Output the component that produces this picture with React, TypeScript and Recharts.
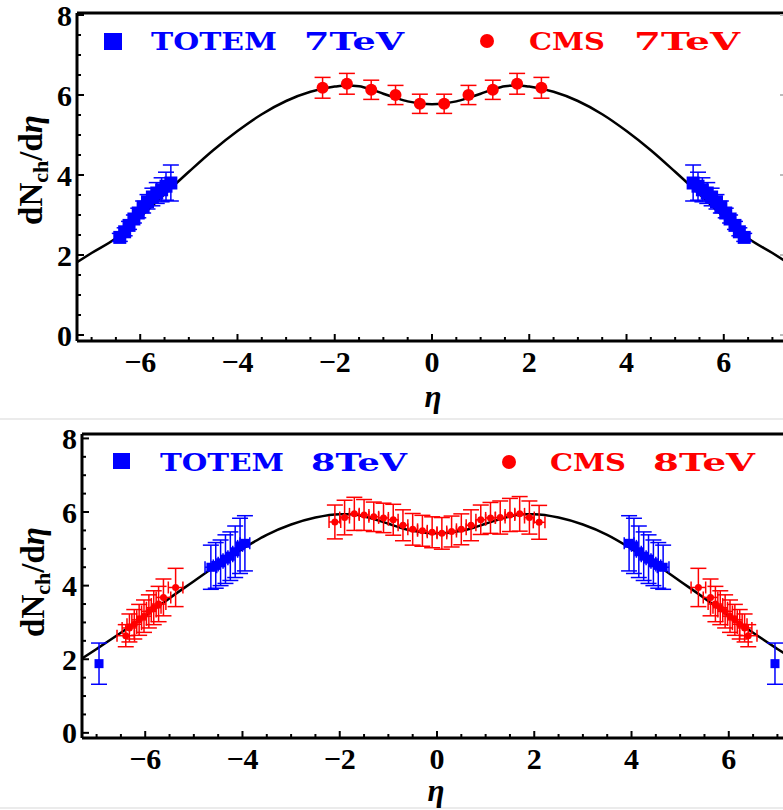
import React from "react";
import { ComposedChart, Line, Scatter, XAxis, YAxis, ErrorBar } from "recharts";

// fitted curves on a common eta grid
const etaGrid = [
  -7.3, -7, -6.5, -6, -5.5, -5, -4.5, -4, -3.5, -3, -2.5, -2, -1.75, -1.5, -1.25, -1, -0.75, -0.5, -0.25, 0,
  0.25, 0.5, 0.75, 1, 1.25, 1.5, 1.75, 2, 2.5, 3, 3.5, 4, 4.5, 5, 5.5, 6, 6.5, 7, 7.3,
];
const fit7 = [
  1.82, 2.05, 2.42, 2.95, 3.52, 4.08, 4.62, 5.1, 5.52, 5.85, 6.08, 6.21, 6.24, 6.22, 6.14, 6.03, 5.93, 5.84, 5.79, 5.77,
  5.79, 5.84, 5.93, 6.03, 6.14, 6.22, 6.24, 6.21, 6.08, 5.85, 5.52, 5.1, 4.62, 4.08, 3.52, 2.95, 2.42, 2.05, 1.82,
];
const fit8 = [
  2.02, 2.28, 2.72, 3.18, 3.66, 4.12, 4.58, 5.0, 5.38, 5.66, 5.85, 5.94, 5.94, 5.88, 5.79, 5.68, 5.57, 5.49, 5.44, 5.42,
  5.44, 5.49, 5.57, 5.68, 5.79, 5.88, 5.94, 5.94, 5.85, 5.66, 5.38, 5.0, 4.58, 4.12, 3.66, 3.18, 2.72, 2.28, 2.02,
];

// 7 TeV data
const totem7Eta = [5.37, 5.47, 5.56, 5.66, 5.75, 5.85, 5.94, 6.04, 6.13, 6.23, 6.32, 6.42]; // plotted at +/- eta
const totem7Val = [3.8, 3.72, 3.63, 3.55, 3.45, 3.33, 3.2, 3.05, 2.9, 2.74, 2.58, 2.44];
const totem7Err = [0.45, 0.35, 0.3, 0.26, 0.22, 0.18, 0.15, 0.12, 0.1, 0.1, 0.1, 0.1];

const cms7Eta = [-2.25, -1.75, -1.25, -0.75, -0.25, 0.25, 0.75, 1.25, 1.75, 2.25];
const cms7Val = [6.18, 6.28, 6.13, 6.0, 5.78, 5.78, 6.0, 6.13, 6.28, 6.18];
const cms7Err = [0.26, 0.26, 0.24, 0.24, 0.24, 0.24, 0.24, 0.24, 0.26, 0.26];

// 8 TeV data
const cms8Eta = [-2.1, -1.9, -1.7, -1.5, -1.3, -1.1, -0.9, -0.7, -0.5, -0.3, -0.1, 0.1, 0.3, 0.5, 0.7, 0.9, 1.1, 1.3, 1.5, 1.7, 1.9, 2.1];
const cms8Val = [5.73, 5.85, 5.95, 5.92, 5.87, 5.84, 5.79, 5.64, 5.53, 5.49, 5.45, 5.42, 5.47, 5.53, 5.64, 5.79, 5.84, 5.85, 5.92, 5.95, 5.85, 5.72];
const cms8Err = [0.46, 0.47, 0.45, 0.42, 0.4, 0.4, 0.42, 0.42, 0.43, 0.42, 0.42, 0.43, 0.42, 0.42, 0.42, 0.4, 0.42, 0.45, 0.45, 0.47, 0.45, 0.46];
const cms8EtaErr = [0.12, 0.1, 0.1, 0.1, 0.1, 0.1, 0.1, 0.1, 0.1, 0.1, 0.1, 0.1, 0.1, 0.1, 0.1, 0.1, 0.1, 0.1, 0.1, 0.1, 0.1, 0.12];

const cms8FwdEta = [5.375, 5.625, 5.725, 5.825, 5.925, 6.025, 6.125, 6.225, 6.325, 6.4]; // plotted at +/- eta
const cms8FwdVal = [3.95, 3.68, 3.5, 3.4, 3.3, 3.17, 3.07, 2.95, 2.85, 2.64];
const cms8FwdErr = [0.52, 0.5, 0.48, 0.46, 0.45, 0.44, 0.42, 0.4, 0.38, 0.3];
const cms8FwdEtaErr = [0.15, 0.15, 0.15, 0.15, 0.15, 0.15, 0.15, 0.15, 0.15, 0.18];

const totem8Eta = [3.95, 4.05, 4.15, 4.25, 4.35, 4.45, 4.55, 4.65, 6.95]; // plotted at +/- eta
const totem8Val = [5.15, 5.08, 4.92, 4.8, 4.72, 4.62, 4.55, 4.5, 1.88];
const totem8Err = [0.75, 0.75, 0.7, 0.66, 0.66, 0.62, 0.62, 0.6, 0.56];
const totem8EtaErr = [0.1, 0.05, 0.05, 0.05, 0.05, 0.05, 0.05, 0.12, 0];

// ticks
const xTicks = [
  -7, -6.5, -6, -5.5, -5, -4.5, -4, -3.5, -3, -2.5, -2, -1.5, -1, -0.5, 0,
  0.5, 1, 1.5, 2, 2.5, 3, 3.5, 4, 4.5, 5, 5.5, 6, 6.5, 7,
];
const yTicks = [0, 0.5, 1, 1.5, 2, 2.5, 3, 3.5, 4, 4.5, 5, 5.5, 6, 6.5, 7, 7.5, 8];

const BLUE = "#0000ff";
const RED = "#ff0000";
const SERIF = "'Liberation Serif', 'Times New Roman', serif";
const SLAB = "'DejaVu Serif', 'Courier New', serif";

type Pt = { x: number; y: number; ey: number; ex: number };

function pts(eta: number[], val: number[], err: number[], etaErr?: number[]): Pt[] {
  return eta.map((e, i) => ({ x: e, y: val[i], ey: err[i], ex: etaErr ? etaErr[i] : 0 }));
}
function mirrored(eta: number[], val: number[], err: number[], etaErr?: number[]): Pt[] {
  const out: Pt[] = [];
  eta.forEach((e, i) => {
    const p = { y: val[i], ey: err[i], ex: etaErr ? etaErr[i] : 0 };
    out.push({ x: -e, ...p }, { x: e, ...p });
  });
  return out;
}

const fit7Data = etaGrid.map((e, i) => ({ x: e, y: fit7[i] }));
const fit8Data = etaGrid.map((e, i) => ({ x: e, y: fit8[i] }));
const totem7Data = mirrored(totem7Eta, totem7Val, totem7Err);
const cms7Data = pts(cms7Eta, cms7Val, cms7Err);
const cms8Data = pts(cms8Eta, cms8Val, cms8Err, cms8EtaErr);
const cms8FwdData = mirrored(cms8FwdEta, cms8FwdVal, cms8FwdErr, cms8FwdEtaErr);
const totem8Data = mirrored(totem8Eta, totem8Val, totem8Err, totem8EtaErr);

const isMajor = (v: number) => Math.abs(v / 2 - Math.round(v / 2)) < 1e-6;
const fmt = (v: number) => (v < 0 ? `\u2212${-v}` : `${v}`);

function BottomTick(props: any) {
  const { x, y, payload } = props;
  const major = isMajor(payload.value);
  return (
    <g>
      <line x1={x} x2={x} y1={y} y2={y - (major ? 7 : 4)} stroke="#000" strokeWidth={2} />
      {major && (
        <text x={x} y={y + 31} textAnchor="middle" fontFamily={SERIF} fontWeight="bold" fontSize={30} fill="#000">
          {fmt(payload.value)}
        </text>
      )}
    </g>
  );
}
function TopTick(props: any) {
  const { x, y, payload } = props;
  const major = isMajor(payload.value);
  return <line x1={x} x2={x} y1={y} y2={y + (major ? 7 : 4)} stroke="#000" strokeWidth={2} />;
}
function LeftTick(props: any) {
  const { x, y, payload } = props;
  const major = isMajor(payload.value);
  return (
    <g>
      <line x1={x} x2={x + (major ? 7 : 4)} y1={y} y2={y} stroke="#000" strokeWidth={2} />
      {major && (
        <text x={x - 5} y={y} dy="0.35em" textAnchor="end" fontFamily={SERIF} fontWeight="bold" fontSize={30} fill="#000">
          {payload.value}
        </text>
      )}
    </g>
  );
}
function RightTick(props: any) {
  const { x, y, payload } = props;
  const major = isMajor(payload.value);
  return <line x1={x} x2={x - (major ? 7 : 4)} y1={y} y2={y} stroke="#bbb" strokeWidth={2} />;
}

// axes get a 1px box (Recharts skips drawing an axis of zero size)
function frameAxes(yDomain: [number, number]) {
  return [
    <XAxis key="xb" xAxisId="b" type="number" dataKey="x" domain={[-7.3, 7.3]} allowDataOverflow ticks={xTicks} interval={0}
      height={1} tickSize={0} tickMargin={0} tickLine={false} tick={(p: any) => <BottomTick {...p} />}
      axisLine={{ stroke: "#000", strokeWidth: 3 }} />,
    <XAxis key="xt" xAxisId="t" orientation="top" type="number" domain={[-7.3, 7.3]} allowDataOverflow ticks={xTicks} interval={0}
      height={1} tickSize={0} tickMargin={0} tickLine={false} tick={(p: any) => <TopTick {...p} />}
      axisLine={{ stroke: "#000", strokeWidth: 3 }} />,
    <YAxis key="yl" yAxisId="l" type="number" dataKey="y" domain={yDomain} allowDataOverflow ticks={yTicks} interval={0}
      width={1} tickSize={0} tickMargin={0} tickLine={false} tick={(p: any) => <LeftTick {...p} />}
      axisLine={{ stroke: "#000", strokeWidth: 3 }} />,
    <YAxis key="yr" yAxisId="r" orientation="right" type="number" domain={yDomain} allowDataOverflow ticks={yTicks} interval={0}
      width={1} tickSize={0} tickMargin={0} tickLine={false} tick={(p: any) => <RightTick {...p} />}
      axisLine={{ stroke: "#bbb", strokeWidth: 2 }} />,
  ];
}

const squareShape = (s: number) => (p: any) =>
  <rect x={p.cx - s / 2} y={p.cy - s / 2} width={s} height={s} fill={BLUE} />;
const dotShape = (r: number) => (p: any) => <circle cx={p.cx} cy={p.cy} r={r} fill={RED} />;

function YLabel({ x, y }: { x: number; y: number }) {
  return (
    <text transform={`translate(${x},${y}) rotate(-90)`} textAnchor="middle" fontFamily={SERIF} fontWeight="bold" fontSize={33} fill="#000">
      dN<tspan fontSize={22} dy={6}>ch</tspan>
      <tspan dy={-6}>/d</tspan>
      <tspan fontStyle="italic">η</tspan>
    </text>
  );
}

// legend words are set one by one so the wide typewriter gap between them is kept
function Word({ x, y, w, color, children }: { x: number; y: number; w: number; color: string; children: string }) {
  return (
    <text x={x} y={y} textLength={w} lengthAdjust="spacingAndGlyphs" fontFamily={SLAB} fontWeight="bold" fontSize={25} fill={color}>
      {children}
    </text>
  );
}

export default function App() {
  return (
    <div style={{ position: "absolute", left: 0, top: 0, width: 783, height: 810, overflow: "hidden", background: "#fff" }}>
      <div style={{ position: "absolute", left: 0, top: 0 }}>
        <ComposedChart width={800} height={400} margin={{ top: 12, right: 12, bottom: 58, left: 76 }}>
          {frameAxes([-0.15, 8.05])}
          <Line data={fit7Data} dataKey="y" xAxisId="b" yAxisId="l" type="monotone" stroke="#000" strokeWidth={2.5}
            dot={false} activeDot={false} isAnimationActive={false} />
          <Scatter data={totem7Data} xAxisId="b" yAxisId="l" shape={squareShape(13)} isAnimationActive={false}>
            <ErrorBar dataKey="ey" direction="y" width={8} stroke={BLUE} strokeWidth={1.5} />
          </Scatter>
          <Scatter data={cms7Data} xAxisId="b" yAxisId="l" shape={dotShape(6)} isAnimationActive={false}>
            <ErrorBar dataKey="ey" direction="y" width={8} stroke={RED} strokeWidth={1.5} />
          </Scatter>
        </ComposedChart>
      </div>
      <div style={{ position: "absolute", left: 0, top: 420 }}>
        <ComposedChart width={800} height={390} margin={{ top: 13, right: 7, bottom: 71, left: 81 }}>
          {frameAxes([-0.14, 8.12])}
          <Line data={fit8Data} dataKey="y" xAxisId="b" yAxisId="l" type="monotone" stroke="#000" strokeWidth={2.5}
            dot={false} activeDot={false} isAnimationActive={false} />
          <Scatter data={cms8FwdData} xAxisId="b" yAxisId="l" shape={dotShape(3.5)} isAnimationActive={false}>
            <ErrorBar dataKey="ey" direction="y" width={8} stroke={RED} strokeWidth={1.5} />
            <ErrorBar dataKey="ex" direction="x" width={6} stroke={RED} strokeWidth={1.5} />
          </Scatter>
          <Scatter data={cms8Data} xAxisId="b" yAxisId="l" shape={dotShape(3.5)} isAnimationActive={false}>
            <ErrorBar dataKey="ey" direction="y" width={8} stroke={RED} strokeWidth={1.5} />
            <ErrorBar dataKey="ex" direction="x" width={6} stroke={RED} strokeWidth={1.5} />
          </Scatter>
          <Scatter data={totem8Data} xAxisId="b" yAxisId="l" shape={squareShape(9)} isAnimationActive={false}>
            <ErrorBar dataKey="ey" direction="y" width={8} stroke={BLUE} strokeWidth={1.5} />
            <ErrorBar dataKey="ex" direction="x" width={6} stroke={BLUE} strokeWidth={1.5} />
          </Scatter>
        </ComposedChart>
      </div>
      <svg width={783} height={810} style={{ position: "absolute", left: 0, top: 0, pointerEvents: "none" }}>
        <line x1={0} x2={783} y1={419} y2={419} stroke="#e4e4e4" strokeWidth={1.5} />
        <line x1={0} x2={783} y1={808} y2={808} stroke="#e4e4e4" strokeWidth={1.5} />

        <rect x={104} y={33} width={18} height={17} fill={BLUE} />
        <Word x={151} y={50} w={126} color={BLUE}>TOTEM</Word>
        <Word x={304} y={50} w={100} color={BLUE}>7TeV</Word>
        <circle cx={487} cy={41} r={7} fill={RED} />
        <Word x={529} y={50} w={76} color={RED}>CMS</Word>
        <Word x={634} y={50} w={106} color={RED}>7TeV</Word>

        <rect x={113} y={453} width={17} height={16} fill={BLUE} />
        <Word x={160} y={471} w={124} color={BLUE}>TOTEM</Word>
        <Word x={311} y={471} w={96} color={BLUE}>8TeV</Word>
        <circle cx={509} cy={462} r={7} fill={RED} />
        <Word x={550} y={471} w={76} color={RED}>CMS</Word>
        <Word x={653} y={471} w={102} color={RED}>8TeV</Word>

        <YLabel x={42} y={170} />
        <YLabel x={44} y={582} />

        <text x={433} y={407} textAnchor="middle" fontFamily={SERIF} fontWeight="bold" fontStyle="italic" fontSize={31} fill="#000">η</text>
        <text x={436} y={801} textAnchor="middle" fontFamily={SERIF} fontWeight="bold" fontStyle="italic" fontSize={31} fill="#000">η</text>
      </svg>
    </div>
  );
}
